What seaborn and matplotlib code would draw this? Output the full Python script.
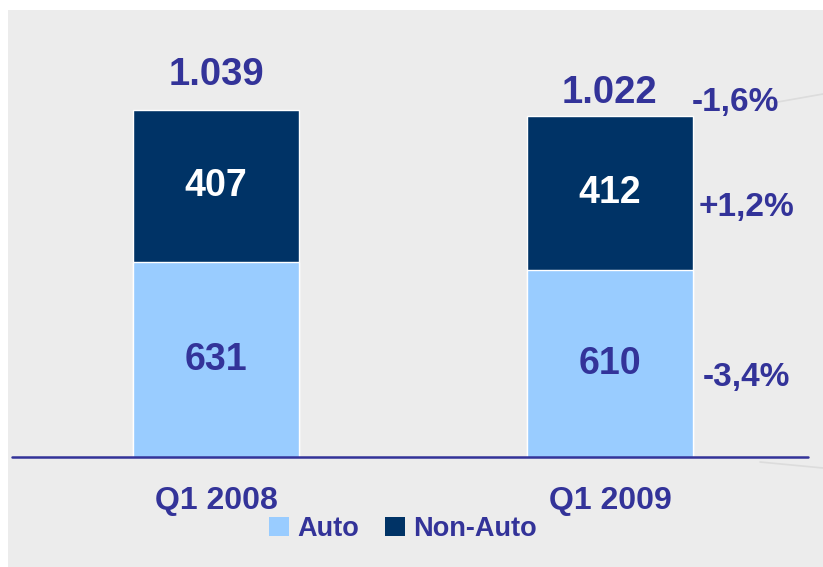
import matplotlib
matplotlib.use("Agg")
import matplotlib.pyplot as plt
import seaborn as sns
import pandas as pd
from matplotlib.patches import Patch, Rectangle
from matplotlib.lines import Line2D

quarters = ["Q1 2008", "Q1 2009"]
auto = [631, 610]
non_auto = [407, 412]
totals_label = ["1.039", "1.022"]
changes = ["-1,6%", "+1,2%", "-3,4%"]

sns.set_theme(style="white")
plt.rcParams["font.family"] = ["Liberation Sans", "DejaVu Sans"]
plt.rcParams["font.weight"] = "bold"

TXT = "#333399"
LIGHT = "#99ccff"
DARK = "#003366"
BG = "#ececec"

df = pd.DataFrame({"quarter": quarters, "auto": auto, "non_auto": non_auto})
df["total"] = df["auto"] + df["non_auto"]

W, H = 823, 567
fig = plt.figure(figsize=(W / 100, H / 100), dpi=100, facecolor="white")
bg = Rectangle((8 / W, 0), 1, 1 - 10 / H, transform=fig.transFigure,
               facecolor=BG, edgecolor="none", zorder=-10)
fig.patches.append(bg)
# faint decorative lines on the right edge
for (x0, y0, x1, y1) in [(772, 103, 823, 94), (760, 462, 823, 468)]:
    fig.lines.append(Line2D([x0 / W, x1 / W], [1 - y0 / H, 1 - y1 / H],
                            transform=fig.transFigure, color="#dcdcdc", lw=1.2, zorder=-5))

ax = fig.add_axes([12 / W, 110 / H, 796 / W, 447 / H])
ax.set_zorder(5)
ax.set_facecolor("none")

sns.barplot(data=df, x="quarter", y="total", order=quarters, color=DARK,
            width=0.421, saturation=1, ax=ax, zorder=2)
sns.barplot(data=df, x="quarter", y="auto", order=quarters, color=LIGHT,
            width=0.421, saturation=1, ax=ax, zorder=3)

ax.set_xlim(-0.518, 1.503)
ax.set_ylim(110, 1307)
for s in ax.spines.values():
    s.set_visible(False)
ax.axhline(110, color=TXT, lw=1.8, zorder=5, clip_on=False)
ax.set_yticks([])
ax.set_xlabel("")
ax.set_ylabel("")
ax.tick_params(axis="x", length=0, pad=21, labelsize=23, labelcolor=TXT)
for t in ax.get_xticklabels():
    t.set_fontweight("bold")

# segment labels
for i in range(len(quarters)):
    a = df["auto"][i]
    n = df["non_auto"][i]
    ax.text(i, (110 + a) / 2, str(a), ha="center", va="center", color=TXT,
            fontsize=27, fontweight="bold", zorder=6)
    ax.text(i, a + n / 2, str(n), ha="center", va="center", color="white",
            fontsize=27, fontweight="bold", zorder=6)

# totals above bars
tot_offsets = [18, 9.5]
for i in range(len(quarters)):
    ax.annotate(totals_label[i], (i, df["total"][i]), xytext=(0, tot_offsets[i]),
                textcoords="offset points", ha="center", va="baseline",
                color=TXT, fontsize=27.5, fontweight="bold", zorder=6)

# change labels on right of second bar
ax.annotate(changes[0], (1 + 0.211, df["total"][1]), xytext=(-1, 10),
            textcoords="offset points", ha="left", va="center",
            color=TXT, fontsize=24, fontweight="bold", zorder=6)
ax.annotate(changes[1], (1 + 0.211, df["auto"][1] + df["non_auto"][1] / 2),
            xytext=(4, -10), textcoords="offset points", ha="left", va="center",
            color=TXT, fontsize=24, fontweight="bold", zorder=6)
ax.annotate(changes[2], (1 + 0.211, (110 + df["auto"][1]) / 2),
            xytext=(7, -10), textcoords="offset points", ha="left", va="center",
            color=TXT, fontsize=24, fontweight="bold", zorder=6)

handles = [Patch(facecolor=LIGHT, edgecolor="none", label="Auto"),
           Patch(facecolor=DARK, edgecolor="none", label="Non-Auto")]
leg = fig.legend(handles=handles, loc="center", bbox_to_anchor=(403 / W, 1 - 529 / H),
                 ncol=2, frameon=False, fontsize=19.5, handlelength=0.75, handleheight=0.75,
                 handletextpad=0.3, columnspacing=0.95)
for t in leg.get_texts():
    t.set_color(TXT)
    t.set_fontweight("bold")

fig.savefig("out.png", dpi=100, facecolor=fig.get_facecolor())
